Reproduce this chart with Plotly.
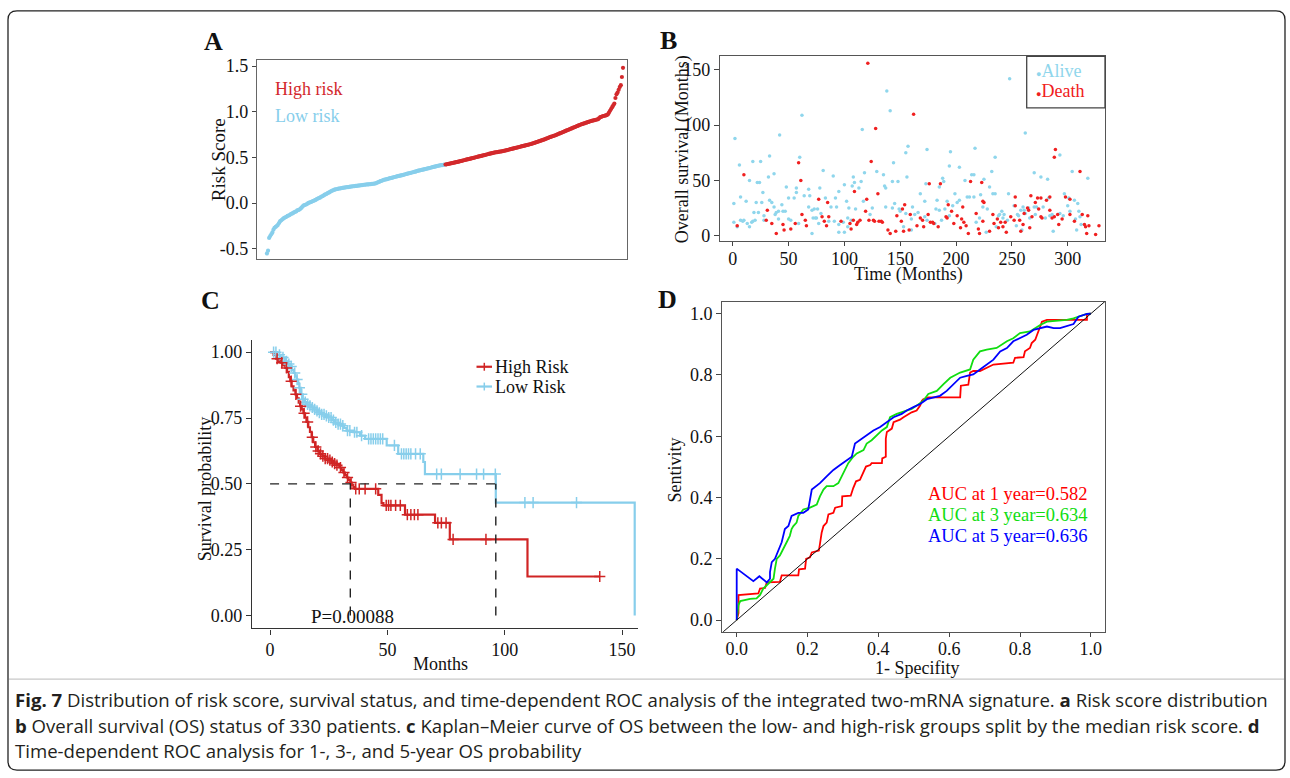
import numpy as np
import plotly.graph_objects as go

W, H = 1290, 778
def px(x): return x / W
def py(y): return 1 - y / H

SERIF = "Liberation Serif"
TXT = "#111111"

# ---------------- Panel A: risk score distribution ----------------
risk_score = [
    -0.55, -0.52, -0.38, -0.36, -0.34, -0.32, -0.29, -0.27, -0.26, -0.25,
    -0.24, -0.22, -0.20, -0.19, -0.18, -0.17, -0.16, -0.155, -0.15, -0.14,
    -0.135, -0.13, -0.12, -0.115, -0.11, -0.10, -0.095, -0.09, -0.08, -0.075,
    -0.07, -0.06, -0.05, -0.035, -0.025, -0.02, -0.015, -0.01, 0.0, 0.005,
    0.01, 0.015, 0.02, 0.025, 0.03, 0.035, 0.045, 0.05, 0.055, 0.06,
    0.07, 0.075, 0.08, 0.09, 0.095, 0.10, 0.11, 0.115, 0.12, 0.13,
    0.135, 0.14, 0.145, 0.15, 0.152, 0.155, 0.158, 0.16, 0.162, 0.165,
    0.167, 0.169, 0.171, 0.173, 0.175, 0.176, 0.178, 0.18, 0.182, 0.184,
    0.185, 0.186, 0.188, 0.19, 0.191, 0.193, 0.194, 0.196, 0.198, 0.2,
    0.201, 0.203, 0.204, 0.205, 0.206, 0.207, 0.208, 0.21, 0.212, 0.213,
    0.215, 0.22, 0.225, 0.23, 0.235, 0.24, 0.245, 0.25, 0.255, 0.258,
    0.26, 0.263, 0.266, 0.27, 0.273, 0.276, 0.28, 0.283, 0.286, 0.289,
    0.292, 0.295, 0.298, 0.30, 0.303, 0.306, 0.31, 0.313, 0.316, 0.32,
    0.323, 0.326, 0.329, 0.332, 0.335, 0.338, 0.341, 0.344, 0.348, 0.352,
    0.355, 0.358, 0.36, 0.363, 0.366, 0.369, 0.372, 0.375, 0.378, 0.381,
    0.384, 0.387, 0.39, 0.393, 0.396, 0.399, 0.402, 0.405, 0.408, 0.411,
    0.413, 0.415, 0.417, 0.419, 0.421,
    0.423, 0.425, 0.428, 0.43, 0.433,
    0.436, 0.438, 0.441, 0.443, 0.446, 0.448, 0.451, 0.454, 0.457, 0.46,
    0.463, 0.466, 0.469, 0.472, 0.475, 0.478, 0.481, 0.484, 0.487, 0.49,
    0.493, 0.496, 0.499, 0.502, 0.505, 0.508, 0.511, 0.514, 0.517, 0.52,
    0.523, 0.526, 0.529, 0.532, 0.535, 0.538, 0.541, 0.544, 0.547, 0.55,
    0.553, 0.555, 0.557, 0.559, 0.561, 0.563, 0.565, 0.567, 0.57, 0.572,
    0.575, 0.578, 0.581, 0.584, 0.587, 0.59, 0.593, 0.596, 0.599, 0.602,
    0.605, 0.608, 0.611, 0.614, 0.617, 0.62, 0.623, 0.626, 0.629, 0.632,
    0.635, 0.638, 0.641, 0.644, 0.647, 0.651, 0.655, 0.659, 0.663, 0.667,
    0.671, 0.675, 0.679, 0.683, 0.687, 0.691, 0.695, 0.70, 0.705, 0.71,
    0.715, 0.72, 0.724, 0.728, 0.732, 0.736, 0.74, 0.745, 0.75, 0.755,
    0.76, 0.765, 0.77, 0.775, 0.78, 0.785, 0.79, 0.795, 0.80, 0.805,
    0.81, 0.815, 0.82, 0.825, 0.83, 0.835, 0.84, 0.845, 0.85, 0.855,
    0.86, 0.864, 0.868, 0.872, 0.876, 0.88, 0.884, 0.888, 0.892, 0.896,
    0.90, 0.903, 0.906, 0.909, 0.912, 0.915, 0.918, 0.93, 0.94, 0.945,
    0.95, 0.953, 0.956, 0.96, 0.963, 0.97, 0.99, 1.01, 1.03, 1.05,
    1.07, 1.09, 1.15, 1.19, 1.21, 1.24, 1.27, 1.29, 1.38, 1.48,
]
n_low = 165
risk_ticks = [-0.5, 0.0, 0.5, 1.0, 1.5]

# ---------------- Panel B: survival status ----------------
alive_idx = [62, 2, 42, 6, 18, 25, 33, 60, 81, 90, 15, 22, 24, 32, 37, 48, 57, 68, 78, 95,
             100, 107, 7, 1, 12, 21, 26, 27, 33, 35, 37, 44, 50, 55, 57, 64, 69, 68, 71, 73,
             76, 79, 83, 88, 92, 93, 102, 104, 19, 23, 28, 38, 39, 41, 45, 47, 1, 4, 7, 9,
             10, 13, 15, 17, 18, 20, 28, 41, 50, 52, 59, 72, 74, 75, 77, 91, 95, 99, 103, 95,
             100, 71, 86, 103, 106,
             138, 141, 116, 157, 155, 174, 195, 217, 194, 203, 144, 129, 135, 118, 108, 115, 113, 109, 136, 137,
             143, 148, 156, 173, 188, 189, 185, 168, 172, 183, 199, 203, 201, 208, 214, 216, 210, 212, 216, 225,
             110, 117, 125, 137, 143, 145, 149, 150, 155, 161, 163, 166, 160, 172, 174, 182, 181, 185, 190, 194,
             187, 192, 197, 218, 221, 153, 160, 123,
             248, 262, 235, 293, 232, 270, 276, 282, 304, 318, 230, 233, 235, 222, 247, 252, 260, 265, 270, 272,
             278, 283, 297, 301, 306, 309, 300, 293, 296, 302, 310, 311, 307, 224, 228, 241, 239, 238, 243, 242,
             246, 255, 256, 258, 261, 262, 266, 271, 284, 286, 280, 287, 227, 236, 254, 259, 308, 312]
alive_os = [109, 88, 91, 64, 67, 67, 72, 71, 59, 54, 50, 48, 48, 53, 56, 44, 43, 42, 43, 40,
            46, 45, 35, 29, 31, 30, 30, 39, 32, 30, 26, 28, 34, 34, 39, 36, 36, 26, 23, 24,
            24, 20, 34, 26, 34, 26, 31, 25, 21, 21, 18, 19, 21, 22, 22, 22, 12, 8, 14, 13,
            14, 11, 8, 12, 13, 14, 14, 15, 15, 14, 11, 16, 16, 16, 11, 13, 10, 12, 8, 3,
            3, 2, 13, 16, 14,
            131, 113, 96, 81, 75, 78, 76, 79, 63, 62, 66, 58, 55, 57, 53, 49, 43, 48, 45, 43,
            49, 49, 53, 47, 52, 49, 44, 38, 31, 32, 38, 32, 30, 50, 55, 55, 35, 35, 35, 51,
            24, 31, 25, 26, 25, 29, 24, 22, 20, 26, 19, 21, 15, 17, 14, 24, 11, 23, 24, 18,
            14, 31, 27, 12, 16, 8, 5, 19,
            142, 93, 71, 73, 58, 57, 53, 51, 58, 52, 44, 38, 38, 37, 38, 27, 26, 25, 26, 26,
            26, 34, 38, 34, 32, 29, 27, 20, 18, 22, 22, 17, 15, 26, 24, 22, 19, 18, 19, 16,
            14, 19, 18, 23, 23, 20, 16, 19, 18, 19, 16, 4, 3, 8, 9, 5, 5, 10]
death_idx = [10, 59, 61, 31, 30, 4, 35, 45, 52, 56, 62, 65, 66, 77, 80, 82, 84, 86, 85, 97,
             105, 106, 39, 46, 109, 108,
             121, 162, 128, 124, 130, 120, 119, 114, 112, 111, 122, 126, 127, 131, 133, 134, 139, 141, 146, 151,
             153, 158, 147, 152, 154, 159, 165, 168, 170, 171, 175, 176, 177, 179, 180, 184, 186, 191, 192, 193,
             196, 198, 201, 205, 204, 207, 209, 211, 206, 213, 218, 220, 221, 223, 224, 224,
             289, 288, 311, 225, 253, 267, 273, 276, 281, 284, 298, 302, 233, 237, 234, 238, 240, 244, 242, 245,
             249, 252, 253, 257, 260, 261, 264, 265, 268, 271, 274, 276, 277, 284, 286, 288, 291, 292, 295, 302,
             306, 313, 315, 316, 318, 319, 317, 266, 258, 230, 325, 328]
death_os = [55, 66, 50, 23, 14, 9, 11, 10, 6, 11, 19, 14, 9, 33, 17, 13, 9, 17, 30, 13,
            11, 6, 2, 5, 40, 14,
            156, 110, 97, 67, 38, 33, 22, 14, 12, 10, 14, 14, 13, 13, 13, 12, 5, 2, 4, 13,
            4, 5, 18, 24, 28, 19, 9, 16, 14, 8, 19, 47, 12, 12, 11, 8, 47, 17, 16, 28,
            22, 11, 18, 15, 7, 12, 9, 2, 26, 49, 20, 6, 2, 48, 13, 31,
            78, 71, 58, 30, 35, 36, 34, 34, 32, 35, 35, 33, 19, 15, 11, 7, 12, 12, 8, 3,
            17, 14, 27, 14, 10, 20, 25, 23, 17, 30, 24, 17, 16, 23, 16, 17, 19, 10, 15, 19,
            13, 19, 10, 8, 18, 9, 2, 7, 4, 4, 1, 9]
b_xticks = [0, 50, 100, 150, 200, 250, 300]
b_yticks = [0, 50, 100, 150]

# ---------------- Panel C: Kaplan-Meier ----------------
high_t = [0, 1.5, 2.5, 3.5, 4.5, 5.5, 6.5, 7.2, 8, 8.6, 9.2, 10, 10.8, 11.5, 12.2, 12.8, 13.5,
          14.2, 14.9, 15.5, 16.3, 17, 17.7, 18.4, 19.2, 20.2, 21.3, 22.3, 23.4, 24.8, 26.3,
          27.3, 28.4, 29.5, 30.5, 31.2, 31.9, 32.7, 33.4, 34.2, 34.8, 35.5, 36.2, 46.1, 47.5,
          48.3, 57.5, 70.3, 76.6, 109.7, 140.5]
high_s = [1.0, 0.99, 0.975, 0.967, 0.96, 0.95, 0.94, 0.925, 0.905, 0.89, 0.87, 0.855, 0.84,
          0.825, 0.808, 0.795, 0.783, 0.768, 0.752, 0.735, 0.715, 0.697, 0.677, 0.658, 0.64,
          0.625, 0.614, 0.605, 0.596, 0.59, 0.583, 0.577, 0.571, 0.562, 0.552, 0.543, 0.533,
          0.524, 0.515, 0.505, 0.496, 0.488, 0.481, 0.458, 0.427, 0.418, 0.383, 0.352, 0.289,
          0.148, 0.148]
low_t = [0, 3, 4.5, 6.4, 7.5, 8.5, 9.3, 10, 10.7, 11.4, 12, 12.5, 13.1, 13.9, 14.6, 15.6,
         16.6, 17.7, 18.8, 19.9, 21, 22, 23.4, 24.8, 26.3, 27.7, 29, 30.5, 31.5, 32.6, 35.5,
         38.3, 40.5, 49.7, 54.6, 65.3, 66, 96.2, 155.4]
low_s = [1.0, 0.99, 0.98, 0.965, 0.955, 0.946, 0.933, 0.921, 0.908, 0.896, 0.88, 0.865, 0.84,
         0.821, 0.81, 0.802, 0.796, 0.79, 0.783, 0.777, 0.77, 0.764, 0.758, 0.752, 0.742,
         0.733, 0.727, 0.721, 0.712, 0.702, 0.696, 0.683, 0.671, 0.646, 0.614, 0.583, 0.537,
         0.429, 0.0]
high_cens = [3, 5, 7, 9, 11, 13, 14.5, 16, 18, 19.5, 20.5, 21.5, 22.5, 23.5, 24.5, 25.5, 26.5,
             27.5, 28.5, 30, 31.5, 33, 34.5, 36.5, 38, 40.5, 45, 49.5, 50.5, 51.5, 53.5, 55.5,
             58.5, 60, 61.5, 63, 71.5, 73, 75, 78, 92, 140.5]
low_cens = [1.5, 2.5, 4, 5.5, 7, 8, 9, 10.5, 11.5, 12.5, 13.5, 14, 15, 16, 17, 18, 19, 20, 21,
            22, 23, 24, 25, 26, 27, 28, 29, 30, 31, 33, 34, 36, 37, 39, 42, 43, 44, 45, 46, 47,
            48, 53, 56, 57, 58, 59, 60, 62, 64, 71, 73, 81, 88, 91, 96, 108.6, 112.1, 130.6]
median_high, median_low = 34.2, 96.2
p_value_text = "P=0.00088"
c_xticks = [0, 50, 100, 150]
c_yticks = [0.0, 0.25, 0.5, 0.75, 1.0]

# ---------------- Panel D: time-dependent ROC ----------------
fpr_1y = [0, 0.005, 0.005, 0.061, 0.066, 0.08, 0.085, 0.122, 0.127, 0.174, 0.176, 0.193, 0.196,
          0.207, 0.212, 0.232, 0.235, 0.237, 0.24, 0.245, 0.254, 0.259, 0.273, 0.278, 0.297,
          0.298, 0.322, 0.329, 0.337, 0.348, 0.358, 0.365, 0.377, 0.381, 0.41, 0.411, 0.421,
          0.421, 0.424, 0.438, 0.443, 0.461, 0.471, 0.48, 0.494, 0.508, 0.518, 0.523, 0.527,
          0.541, 0.631, 0.633, 0.654, 0.659, 0.668, 0.687, 0.725, 0.781, 0.786, 0.81, 0.814,
          0.828, 0.833, 0.843, 0.852, 0.862, 0.876, 0.989, 0.989, 1.0]
tpr_1y = [0, 0.023, 0.082, 0.087, 0.103, 0.105, 0.123, 0.125, 0.146, 0.146, 0.166, 0.168, 0.2,
          0.205, 0.221, 0.227, 0.248, 0.264, 0.286, 0.307, 0.318, 0.345, 0.35, 0.367, 0.372,
          0.404, 0.406, 0.431, 0.453, 0.458, 0.485, 0.501, 0.506, 0.512, 0.512, 0.528, 0.533,
          0.592, 0.614, 0.625, 0.646, 0.654, 0.662, 0.668, 0.678, 0.684, 0.7, 0.716, 0.721,
          0.727, 0.727, 0.765, 0.768, 0.808, 0.813, 0.813, 0.834, 0.84, 0.856, 0.858, 0.877,
          0.888, 0.904, 0.915, 0.942, 0.974, 0.98, 0.98, 0.999, 1.0]
fpr_3y = [0, 0.005, 0.010, 0.024, 0.038, 0.056, 0.066, 0.075, 0.085, 0.094, 0.104, 0.108,
          0.113, 0.122, 0.132, 0.141, 0.15, 0.155, 0.16, 0.169, 0.174, 0.188, 0.207, 0.226,
          0.235, 0.245, 0.254, 0.273, 0.287, 0.297, 0.306, 0.315, 0.329, 0.339, 0.358, 0.367,
          0.381, 0.391, 0.41, 0.424, 0.433, 0.452, 0.48, 0.494, 0.508, 0.527, 0.541, 0.565,
          0.584, 0.603, 0.631, 0.659, 0.668, 0.687, 0.706, 0.734, 0.763, 0.781, 0.8, 0.828,
          0.857, 0.876, 0.932, 0.951, 0.989, 1.0]
tpr_3y = [0, 0.049, 0.062, 0.066, 0.069, 0.071, 0.082, 0.103, 0.114, 0.125, 0.135, 0.168,
          0.2, 0.211, 0.232, 0.254, 0.275, 0.297, 0.307, 0.318, 0.34, 0.361, 0.367, 0.377,
          0.404, 0.426, 0.437, 0.437, 0.447, 0.469, 0.49, 0.512, 0.533, 0.544, 0.555, 0.576,
          0.587, 0.598, 0.619, 0.63, 0.662, 0.673, 0.684, 0.689, 0.7, 0.716, 0.738, 0.748,
          0.77, 0.791, 0.808, 0.818, 0.85, 0.877, 0.883, 0.888, 0.91, 0.92, 0.937, 0.942,
          0.963, 0.974, 0.98, 0.985, 0.999, 1.0]
fpr_5y = [0, 0, 0.047, 0.064, 0.085, 0.094, 0.094, 0.099, 0.108, 0.118, 0.127, 0.136, 0.146,
          0.155, 0.174, 0.188, 0.202, 0.212, 0.226, 0.235, 0.254, 0.273, 0.292, 0.311, 0.325,
          0.334, 0.348, 0.367, 0.386, 0.405, 0.424, 0.443, 0.466, 0.48, 0.499, 0.518, 0.537,
          0.555, 0.574, 0.593, 0.612, 0.631, 0.65, 0.668, 0.687, 0.706, 0.725, 0.744, 0.763,
          0.781, 0.8, 0.819, 0.838, 0.857, 0.876, 0.895, 0.913, 0.951, 0.965, 0.989, 1.0]
tpr_5y = [0, 0.168, 0.127, 0.143, 0.123, 0.135, 0.157, 0.189, 0.2, 0.232, 0.254, 0.297, 0.307,
          0.34, 0.35, 0.35, 0.361, 0.426, 0.437, 0.447, 0.469, 0.49, 0.506, 0.523, 0.533,
          0.576, 0.587, 0.603, 0.619, 0.63, 0.646, 0.662, 0.673, 0.684, 0.695, 0.705, 0.721,
          0.727, 0.732, 0.748, 0.77, 0.791, 0.797, 0.802, 0.818, 0.834, 0.85, 0.877, 0.888,
          0.91, 0.92, 0.931, 0.947, 0.953, 0.958, 0.953, 0.953, 0.966, 0.99, 0.999, 1.0]
auc_labels = ["AUC at 1 year=0.582", "AUC at 3 year=0.634", "AUC at 5 year=0.636"]
d_ticks = [0.0, 0.2, 0.4, 0.6, 0.8, 1.0]

# ---------------- colours ----------------
RISK_RED, RISK_BLUE = "#D3292C", "#87CEEB"
DOT_RED, DOT_BLUE = "#F02020", "#8FD6EC"
KM_RED, KM_BLUE = "#D02424", "#87CEEB"
ROC_COL = ["#FF0000", "#11DD11", "#0000FF"]

fig = go.Figure()

# Panel A traces
idx = list(range(1, len(risk_score) + 1))
fig.add_trace(go.Scatter(x=idx[:n_low], y=risk_score[:n_low], mode="markers",
                         marker=dict(color=RISK_BLUE, size=4.2), xaxis="x", yaxis="y", showlegend=False))
fig.add_trace(go.Scatter(x=idx[n_low:], y=risk_score[n_low:], mode="markers",
                         marker=dict(color=RISK_RED, size=4.2), xaxis="x", yaxis="y", showlegend=False))

# Panel B traces
fig.add_trace(go.Scatter(x=alive_idx, y=alive_os, mode="markers",
                         marker=dict(color=DOT_BLUE, size=3.5), xaxis="x2", yaxis="y2", showlegend=False))
fig.add_trace(go.Scatter(x=death_idx, y=death_os, mode="markers",
                         marker=dict(color=DOT_RED, size=3.5), xaxis="x2", yaxis="y2", showlegend=False))

# Panel C traces
def step_at(ts, ss, t):
    i = int(np.searchsorted(np.array(ts), t, side="right")) - 1
    return ss[max(i, 0)]

fig.add_trace(go.Scatter(x=low_t, y=low_s, mode="lines", line=dict(color=KM_BLUE, width=2.2, shape="hv"),
                         xaxis="x3", yaxis="y3", showlegend=False))
fig.add_trace(go.Scatter(x=high_t, y=high_s, mode="lines", line=dict(color=KM_RED, width=2.2, shape="hv"),
                         xaxis="x3", yaxis="y3", showlegend=False))
fig.add_trace(go.Scatter(x=low_cens, y=[step_at(low_t, low_s, t) for t in low_cens], mode="markers",
                         marker=dict(symbol="cross-thin", size=8, line=dict(color=KM_BLUE, width=1.5)),
                         xaxis="x3", yaxis="y3", showlegend=False))
fig.add_trace(go.Scatter(x=high_cens, y=[step_at(high_t, high_s, t) for t in high_cens], mode="markers",
                         marker=dict(symbol="cross-thin", size=8, line=dict(color=KM_RED, width=1.5)),
                         xaxis="x3", yaxis="y3", showlegend=False))

# Panel D traces
for fx, ty, col in [(fpr_1y, tpr_1y, ROC_COL[0]), (fpr_3y, tpr_3y, ROC_COL[1]), (fpr_5y, tpr_5y, ROC_COL[2])]:
    fig.add_trace(go.Scatter(x=fx, y=ty, mode="lines", line=dict(color=col, width=1.8),
                             xaxis="x4", yaxis="y4", showlegend=False))

tickfont = dict(family=SERIF, size=18, color=TXT)

def box_axis(domain, rng, anchor, **kw):
    d = dict(domain=domain, range=rng, anchor=anchor, showgrid=False, zeroline=False, showline=True,
             mirror=True, linecolor="#666666", linewidth=1.4, tickfont=tickfont, ticks="outside",
             ticklen=5, tickcolor="#444444", tickwidth=1.2)
    d.update(kw)
    return d

layout = dict(
    width=W, height=H, margin=dict(l=0, r=0, t=0, b=0),
    paper_bgcolor="white", plot_bgcolor="white",
    # A
    xaxis=box_axis([px(257), px(627)], [-8.2, 333.7], "y", showticklabels=False, ticks=""),
    yaxis=box_axis([py(258), py(57)], [-0.611, 1.562], "x", tickvals=risk_ticks,
                   ticktext=["%.1f" % v for v in risk_ticks], ticklen=4),
    # B
    xaxis2=box_axis([px(720), px(1105)], [-11.4, 333.4], "y2", tickvals=b_xticks, linecolor="#555555",
                    ticklen=4, ticklabelstandoff=-3),
    yaxis2=box_axis([py(240), py(53)], [-5.1, 162.3], "x2", tickvals=b_yticks, linecolor="#555555"),
    # C
    xaxis3=dict(domain=[px(252), px(638)], range=[-7.7, 156.8], anchor="y3", showgrid=False,
                zeroline=False, showline=True, mirror=False, linecolor="#333333", linewidth=1.4,
                ticks="outside", ticklen=5, tickcolor="#333333", tickwidth=1.2, tickvals=c_xticks,
                tickfont=tickfont),
    yaxis3=dict(domain=[py(631.7), py(340)], range=[-0.049, 1.046], anchor="x3", showgrid=False,
                zeroline=False, showline=True, mirror=False, linecolor="#333333", linewidth=1.4,
                ticks="outside", ticklen=5, tickcolor="#333333", tickwidth=1.2, tickvals=c_yticks,
                ticktext=["%.2f" % v for v in c_yticks], tickfont=tickfont),
    # D
    xaxis4=box_axis([px(722.3), px(1105)], [-0.0407, 1.040], "y4", tickvals=d_ticks,
                    ticktext=["%.1f" % v for v in d_ticks], linecolor="#555555", ticklen=4,
                    ticklabelstandoff=-3),
    yaxis4=box_axis([py(635), py(301)], [-0.0377, 1.0397], "x4", tickvals=d_ticks,
                    ticktext=["%.1f" % v for v in d_ticks], linecolor="#555555"),
)
fig.update_layout(**layout)

shapes = []
# outer rounded frame
r = 9
x0, x1, y0, y1 = 8, 1285, 7, 775
def P(x, y): return f"{px(x):.5f},{py(y):.5f}"
path = (f"M {P(x0 + r, y0)} L {P(x1 - r, y0)} Q {P(x1, y0)} {P(x1, y0 + r)} "
        f"L {P(x1, y1 - r)} Q {P(x1, y1)} {P(x1 - r, y1)} L {P(x0 + r, y1)} "
        f"Q {P(x0, y1)} {P(x0, y1 - r)} L {P(x0, y0 + r)} Q {P(x0, y0)} {P(x0 + r, y0)} Z")
shapes.append(dict(type="path", xref="paper", yref="paper", path=path,
                   line=dict(color="#222222", width=1.3)))
# caption separator
shapes.append(dict(type="line", xref="paper", yref="paper", x0=px(9), x1=px(1284), y0=py(683), y1=py(683),
                   line=dict(color="#BBBBBB", width=1)))
# B legend box
shapes.append(dict(type="rect", xref="paper", yref="paper", x0=px(1026.7), x1=px(1105), y0=py(105), y1=py(53),
                   line=dict(color="#444444", width=1.3)))
# C median lines
for sx0, sy0, sx1, sy1 in [(0, 0.5, median_low, 0.5), (median_high, 0, median_high, 0.5),
                           (median_low, 0, median_low, 0.5)]:
    shapes.append(dict(type="line", xref="x3", yref="y3", x0=sx0, y0=sy0, x1=sx1, y1=sy1,
                       line=dict(color="#222222", width=1.4, dash="dash")))
# C legend keys
for yk, col in [(367, KM_RED), (387, KM_BLUE)]:
    shapes.append(dict(type="line", xref="paper", yref="paper", x0=px(476.5), x1=px(492), y0=py(yk), y1=py(yk),
                       line=dict(color=col, width=2.2)))
    shapes.append(dict(type="line", xref="paper", yref="paper", x0=px(484.3), x1=px(484.3), y0=py(yk - 4),
                       y1=py(yk + 4), line=dict(color=col, width=1.5)))
# D diagonal reference
shapes.append(dict(type="line", xref="x4", yref="y4", x0=-0.039, y0=-0.039, x1=1.04, y1=1.04,
                   line=dict(color="#111111", width=1)))
fig.update_layout(shapes=shapes)

ann = []
def A(x, y, text, size=18, color=TXT, xanchor="center", angle=0, bold=False, family=SERIF):
    ann.append(dict(x=px(x), y=py(y), xref="paper", yref="paper", text=(f"<b>{text}</b>" if bold else text),
                    showarrow=False, xanchor=xanchor, yanchor="middle", textangle=angle,
                    font=dict(family=family, size=size, color=color)))

# panel letters
A(213, 38, "A", 26, bold=True)
A(668, 37, "B", 26, bold=True)
A(210, 300, "C", 26, bold=True)
A(667, 299, "D", 26, bold=True)
# axis titles
A(218, 158, "Risk Score", 19, angle=-90)
A(682, 147, "Overall survival (Months)", 18, angle=-90)
A(908, 274, "Time (Months)", 18)
A(205, 491, "Survival probability", 18, angle=-90)
A(440, 668, "Months", 18)
A(675, 472, "Sentivity", 18, angle=-90)
A(917, 672, "1- Specifity", 18)
# panel A legend text
A(273, 86, "High risk", 18, color=RISK_RED, xanchor="left")
A(273, 113, "Low risk", 18, color=RISK_BLUE, xanchor="left")
# panel B legend
A(1034, 68, "<span style='font-size:9px'>●</span>Alive", 18, color=DOT_BLUE, xanchor="left")
A(1034, 88, "<span style='font-size:9px'>●</span>Death", 18, color=DOT_RED, xanchor="left")
# panel C legend and p value
A(493, 367, "High Risk", 18, xanchor="left")
A(493, 387, "Low Risk", 18, xanchor="left")
A(352, 620, p_value_text, 19)
# panel D AUC labels
for (yy, lab, col) in zip([496, 517, 538], auc_labels, ROC_COL):
    A(1089, yy, lab, 18.5, color=col, xanchor="right")
# caption
CAP = "Open Sans"
CS = 18.6
A(13, 704, "<b>Fig. 7</b> Distribution of risk score, survival status, and time-dependent ROC analysis of the "
           "integrated two-mRNA signature. <b>a</b> Risk score distribution", CS, color="#231F20",
  xanchor="left", family=CAP)
A(13, 730, "<b>b</b> Overall survival (OS) status of 330 patients. <b>c</b> Kaplan–Meier curve of OS between the "
           "low- and high-risk groups split by the median risk score. <b>d</b>", CS, color="#231F20",
  xanchor="left", family=CAP)
A(13, 755, "Time-dependent ROC analysis for 1-, 3-, and 5-year OS probability", CS, color="#231F20",
  xanchor="left", family=CAP)
fig.update_layout(annotations=ann)

fig.write_html("out.html", config={"displayModeBar": False},
               post_script="document.body.style.margin='0px';document.body.style.overflow='hidden';")
